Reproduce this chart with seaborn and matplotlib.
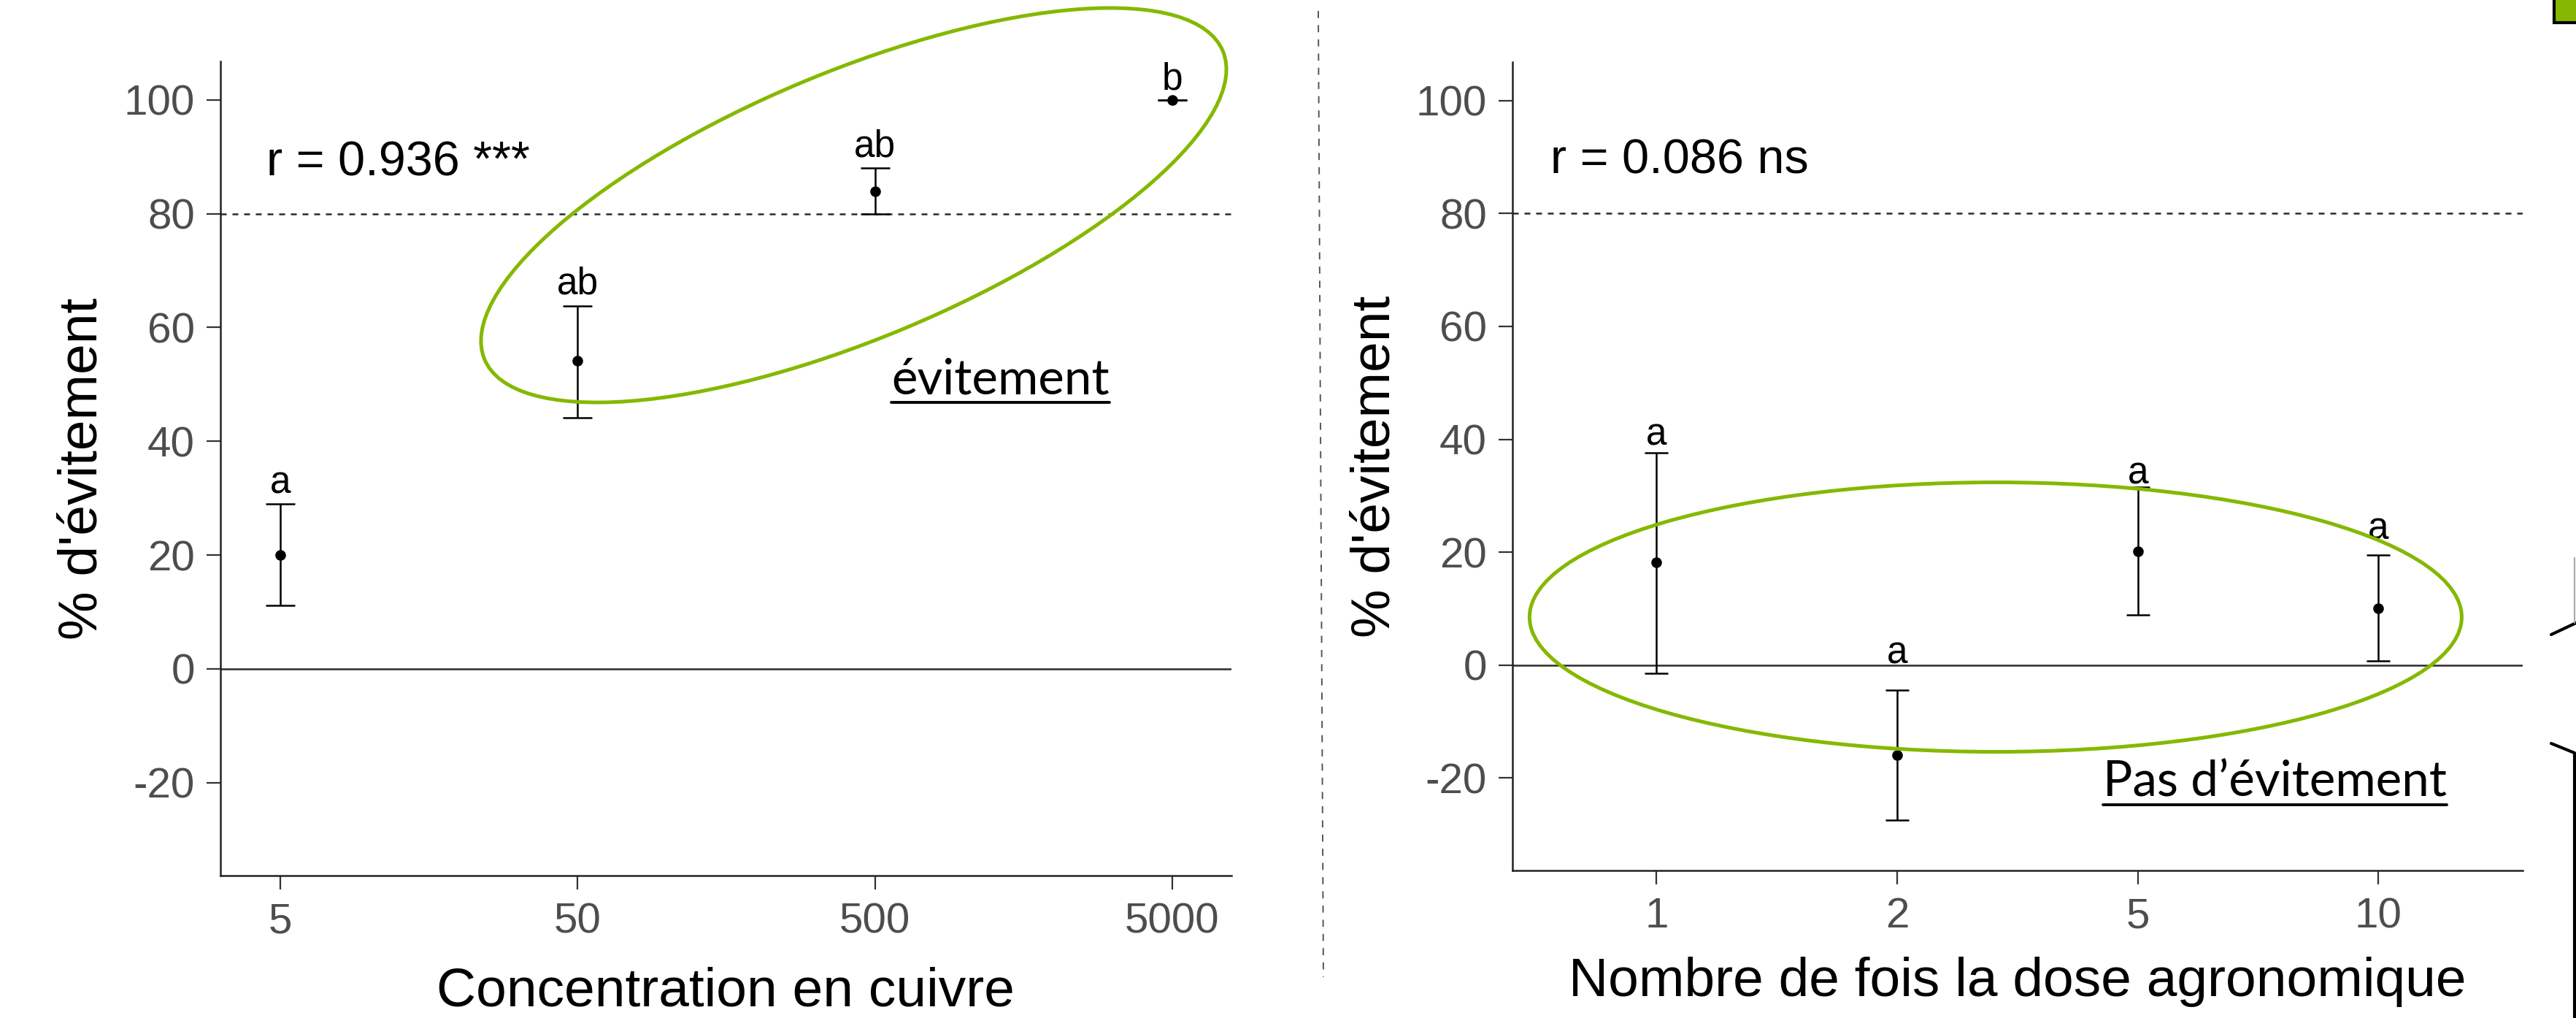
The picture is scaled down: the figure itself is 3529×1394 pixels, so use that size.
import matplotlib
matplotlib.use("Agg")
import matplotlib.pyplot as plt
import matplotlib.patches as mpatches
import matplotlib.transforms as mtransforms
from matplotlib.lines import Line2D
import seaborn as sns
import pandas as pd

# ---------------- data ----------------
cu_labels = ["5", "50", "500", "5000"]
cu_mean = [20.0, 54.2, 84.0, 100.0]
cu_low = [11.2, 44.2, 80.0, 100.0]
cu_high = [29.0, 63.8, 88.0, 100.0]
cu_letters = ["a", "ab", "ab", "b"]
cu_letter_y = [30.8, 65.9, 90.0, 101.9]
cu_r_text = "r = 0.936 ***"

dose_labels = ["1", "2", "5", "10"]
dose_mean = [18.2, -15.9, 20.1, 10.1]
dose_low = [-1.5, -27.5, 8.9, 0.7]
dose_high = [37.6, -4.4, 31.5, 19.5]
dose_letters = ["a", "a", "a", "a"]
dose_letter_y = [39.0, 0.3, 32.1, 22.3]
dose_r_text = "r = 0.086 ns"

y_ticks = [-20, 0, 20, 40, 60, 80, 100]
threshold = 80

# ---------------- style ----------------
sns.set_theme(style="ticks")
plt.rcParams["font.family"] = ["Liberation Sans", "DejaVu Sans"]

W, H = 3529, 1394
DPI = 100
fig = plt.figure(figsize=(W / DPI, H / DPI), dpi=DPI)
fig.patch.set_facecolor("white")

def axrect(x0, y0, x1, y1):
    return [x0 / W, 1 - y1 / H, (x1 - x0) / W, (y1 - y0) / H]

axL = fig.add_axes(axrect(301.7, 84, 1687, 1199.3))
axR = fig.add_axes(axrect(2071.7, 85, 3456, 1192.3))

GREY_TXT = "#4D4D4D"
LINE = "#222222"

def panel(ax, labels, mean, low, high, letters, letter_y, xlim, capsize, rtext, rpos):
    df = pd.DataFrame({"pos": list(range(len(labels))), "mean": mean,
                       "low": low, "high": high})
    ax.axhline(threshold, color="#2a2a2a", lw=1.8, ls=(0, (3.2, 3.2)), zorder=1)
    ax.axhline(0, color="#2a2a2a", lw=1.8, zorder=1)
    ax.errorbar(df["pos"], df["mean"],
                yerr=[df["mean"] - df["low"], df["high"] - df["mean"]],
                fmt="none", ecolor="black", elinewidth=1.8, capsize=capsize,
                capthick=1.8, zorder=3)
    sns.scatterplot(data=df, x="pos", y="mean", ax=ax, color="black", s=110,
                    edgecolor="black", linewidth=0, zorder=4, legend=False)
    for p, t, yy in zip(df["pos"], letters, letter_y):
        ax.text(p, yy, t, ha="center", va="baseline", fontsize=37, color="black")
    ax.set_xlim(*xlim)
    ax.set_ylim(-36.4, 106.8)
    ax.set_xticks(list(range(len(labels))))
    ax.set_xticklabels(labels)
    ax.set_yticks(y_ticks)
    ax.set_yticklabels([str(v) for v in y_ticks])
    for s in ["top", "right"]:
        ax.spines[s].set_visible(False)
    for s in ["left", "bottom"]:
        ax.spines[s].set_color(LINE)
        ax.spines[s].set_linewidth(1.8)
    ax.tick_params(axis="both", length=14, width=1.6, color="#333333",
                   labelsize=42, labelcolor=GREY_TXT)
    ax.tick_params(axis="y", pad=11)
    ax.tick_params(axis="x", pad=12)
    ax.set_xlabel("")
    ax.set_ylabel("")
    ax.set_facecolor("white")
    ax.text(rpos[0], rpos[1], rtext, transform=ax.transAxes, fontsize=48,
            ha="left", va="baseline", color="black")

panel(axL, cu_labels, cu_mean, cu_low, cu_high, cu_letters, cu_letter_y,
      (-0.203, 3.2), 14.4, cu_r_text, (0.0457, 0.860))
panel(axR, dose_labels, dose_mean, dose_low, dose_high, dose_letters, dose_letter_y,
      (-0.6, 3.6), 11.2, dose_r_text, (0.0375, 0.862))

def fx(x):
    return x / W

def fy(y):
    return 1 - y / H

# axis titles
fig.text(fx(994.4), fy(1378), "Concentration en cuivre", ha="center", va="baseline",
         fontsize=54, color="black")
fig.text(fx(2764), fy(1364), "Nombre de fois la dose agronomique", ha="center",
         va="baseline", fontsize=54, color="black")
fig.text(fx(113), fy(642), "% d'évitement", rotation=90, ha="center", va="center",
         fontsize=54, color="black")
fig.text(fx(1884), fy(639), "% d'évitement", rotation=90, ha="center", va="center",
         fontsize=54, color="black")

# separator
fig.add_artist(Line2D([fx(1806), fx(1813)], [fy(15), fy(1338)], color="#555555",
                      lw=1.4, ls=(0, (5, 5))))

# annotation ellipses
GREEN = "#85B800"
ident = mtransforms.IdentityTransform()
fig.add_artist(mpatches.Ellipse((1169.5, H - 281), 1096, 365, angle=22.66,
                                fill=False, edgecolor=GREEN, lw=3.6,
                                transform=ident, zorder=10))
fig.add_artist(mpatches.Ellipse((2733.9, H - 845), 1277, 369, angle=0,
                                fill=False, edgecolor=GREEN, lw=3.6,
                                transform=ident, zorder=10))

# slide annotation texts (underlined)
ann_font = ["Lato", "DejaVu Sans"]
t1 = fig.text(fx(1221), fy(539.6), "évitement", ha="left", va="baseline",
              fontsize=48.5, family=ann_font, color="black")
t2 = fig.text(fx(2881), fy(1089), "Pas d\u2019évitement", ha="left", va="baseline",
              fontsize=48.5, family=ann_font, color="black")
fig.canvas.draw()
r = fig.canvas.get_renderer()
for t, uy in [(t1, 551), (t2, 1102)]:
    bb = t.get_window_extent(renderer=r)
    fig.add_artist(Line2D([bb.x0, bb.x1], [H - uy, H - uy], color="black", lw=2.8,
                          transform=ident))

# cropped slide fragments on the right edge
fig.add_artist(mpatches.Rectangle((3499, H - 31), 40, 40, facecolor=GREEN,
                                  edgecolor="black", lw=3, transform=ident))
fig.add_artist(Line2D([3495, 3529], [H - 869, H - 853], color="black", lw=3,
                      transform=ident))
fig.add_artist(Line2D([3527, 3527], [H - 764, H - 853], color="#aaaaaa", lw=1.5,
                      transform=ident))
fig.add_artist(Line2D([3495, 3527, 3527], [H - 1018, H - 1031, 0], color="black",
                      lw=3, transform=ident))

fig.savefig("out.png", dpi=DPI, facecolor="white")
